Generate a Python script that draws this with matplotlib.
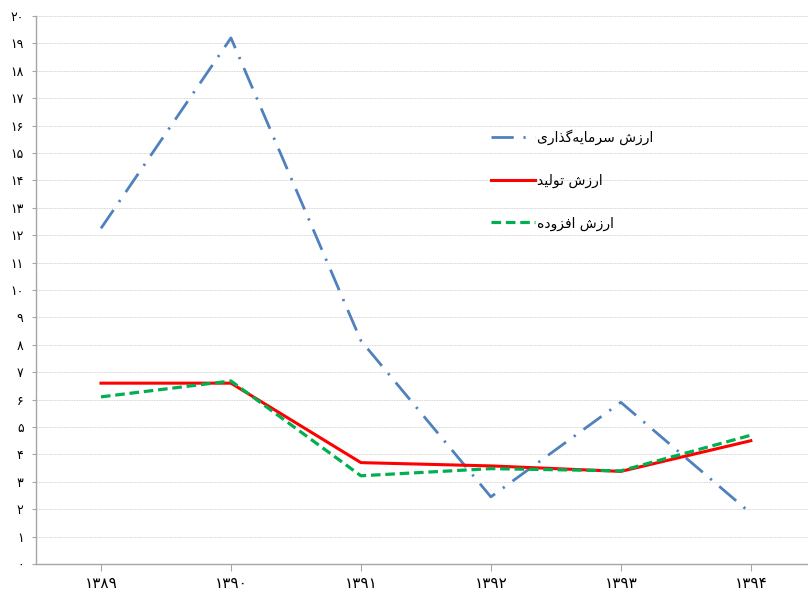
import matplotlib
matplotlib.use("Agg")
import matplotlib.pyplot as plt

years = ["۱۳۸۹", "۱۳۹۰", "۱۳۹۱", "۱۳۹۲", "۱۳۹۳", "۱۳۹۴"]
invest = [12.25, 19.2, 8.15, 2.45, 5.9, 1.85]
production = [6.6, 6.6, 3.7, 3.58, 3.38, 4.5]
value_added = [6.1, 6.68, 3.22, 3.48, 3.4, 4.7]
labels = ["ارزش سرمایه‌گذاری", "ارزش تولید", "ارزش افزوده"]
fa_digits = "۰۱۲۳۴۵۶۷۸۹"

# isolated, final, initial, medial
FORMS = {
    "ا": ("\uFE8D", "\uFE8E"), "د": ("\uFEA9", "\uFEAA"), "ذ": ("\uFEAB", "\uFEAC"),
    "ر": ("\uFEAD", "\uFEAE"), "ز": ("\uFEAF", "\uFEB0"), "و": ("\uFEED", "\uFEEE"),
    "ش": ("\uFEB5", "\uFEB6", "\uFEB7", "\uFEB8"), "س": ("\uFEB1", "\uFEB2", "\uFEB3", "\uFEB4"),
    "م": ("\uFEE1", "\uFEE2", "\uFEE3", "\uFEE4"), "ی": ("\uFBFC", "\uFBFD", "\uFBFE", "\uFBFF"),
    "ه": ("\uFEE9", "\uFEEA", "\uFEEB", "\uFEEC"), "گ": ("\uFB92", "\uFB93", "\uFB94", "\uFB95"),
    "ت": ("\uFE95", "\uFE96", "\uFE97", "\uFE98"), "ل": ("\uFEDD", "\uFEDE", "\uFEDF", "\uFEE0"),
    "ف": ("\uFED1", "\uFED2", "\uFED3", "\uFED4"),
}


def shape(text):
    out = []
    for i, ch in enumerate(text):
        if ch not in FORMS:
            if ch != "\u200c":
                out.append(ch)
            continue
        prev = text[i - 1] if i > 0 else ""
        nxt = text[i + 1] if i + 1 < len(text) else ""
        join_prev = prev in FORMS and len(FORMS[prev]) == 4
        join_next = len(FORMS[ch]) == 4 and nxt in FORMS
        f = FORMS[ch]
        if join_prev and join_next:
            out.append(f[3])
        elif join_prev:
            out.append(f[1])
        elif join_next:
            out.append(f[2])
        else:
            out.append(f[0])
    return "".join(reversed(out))


def fa_num(n):
    return "".join(fa_digits[int(c)] for c in str(n))


def main():
    plt.rcParams["font.family"] = ["DejaVu Sans"]
    fig = plt.figure(figsize=(8.08, 5.95), dpi=100)
    ax = fig.add_axes([36 / 808, 31 / 595, 772 / 808, 548 / 595])
    x = list(range(len(years)))

    ax.plot(x, invest, color="#4f81bd", lw=2.0, linestyle=(0, (8, 3.5, 0.8, 3.5)),
            label=shape(labels[0]), zorder=3)
    ax.plot(x, production, color="#ff0000", lw=2.2, label=shape(labels[1]), zorder=4)
    ax.plot(x, value_added, color="#00b050", lw=2.3, linestyle=(0, (3, 1.5)),
            label=shape(labels[2]), zorder=5)

    ax.set_xlim(-0.5, 5.44)
    ax.set_ylim(0, 20)
    ax.set_xticks(x)
    ax.set_xticklabels(years, fontsize=11)
    ax.set_yticks(range(21))
    ax.set_yticklabels([fa_num(i) for i in range(21)], fontsize=9)
    ax.yaxis.grid(True, color="#d4d4d4", lw=0.6, linestyle=(0, (2, 1)))
    ax.set_axisbelow(True)
    for s in ["top", "right"]:
        ax.spines[s].set_visible(False)
    for s in ["left", "bottom"]:
        ax.spines[s].set_color("#a6a6a6")
        ax.spines[s].set_linewidth(1.0)
    ax.tick_params(axis="y", length=3, color="#a6a6a6", pad=6)
    ax.tick_params(axis="x", length=5, color="#a6a6a6", pad=4)

    ax.legend(loc="upper left", bbox_to_anchor=(478 / 808, 1 - 117 / 595),
              bbox_transform=fig.transFigure, frameon=False, fontsize=10,
              handlelength=3.2, labelspacing=2.05, handletextpad=0.15)

    fig.savefig("out.png", dpi=100)


if __name__ == "__main__":
    main()
